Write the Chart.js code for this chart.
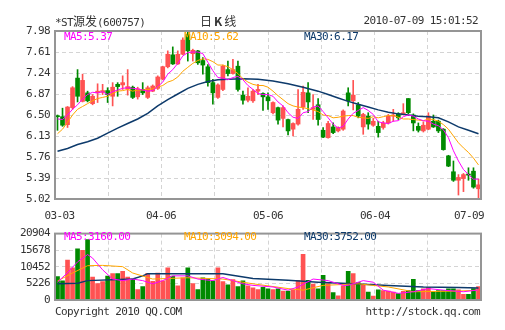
<!DOCTYPE html>
<html>
<head>
<meta charset="utf-8">
<script src="https://cdn.jsdelivr.net/npm/chart.js@4.4.1/dist/chart.umd.min.js"></script>
<style>
  html, body { margin: 0; background: #fff; }
  #wrap { position: relative; width: 505px; height: 330px; overflow: hidden;
          font-family: "DejaVu Sans Mono", "Liberation Mono", monospace; font-size: 11px;
          letter-spacing: -0.6px; color: #333; }
  canvas { position: absolute; left: 0; }
  .t { position: absolute; white-space: nowrap; line-height: 14px; z-index: 2; }
  .cjk { font-family: "Noto Sans CJK SC", sans-serif; font-size: 12px; letter-spacing: 0; }
</style>
</head>
<body>
<div id="wrap">
  <canvas id="kChart" width="505" height="225" style="top:0"></canvas>
  <canvas id="volChart" width="505" height="108" style="top:222px"></canvas>

  <div class="t" style="left:55px;top:14px">*ST<span class="cjk">源发</span>(600757)</div>
  <div class="t cjk" style="left:200px;top:14px;letter-spacing:2px">日<b>K</b>线</div>
  <div class="t" style="right:27px;top:14px">2010-07-09 15:01:52</div>

  <div class="t" style="left:64px;top:30px;color:#ff00ff">MA5:5.37</div>
  <div class="t" style="left:184px;top:30px;color:#ffa500">MA10:5.62</div>
  <div class="t" style="left:304px;top:30px;color:#0d3a6b">MA30:6.17</div>

  <div class="t" style="left:64px;top:230px;color:#ff00ff">MA5:3160.00</div>
  <div class="t" style="left:184px;top:230px;color:#ffa500">MA10:3094.00</div>
  <div class="t" style="left:304px;top:230px;color:#0d3a6b">MA30:3752.00</div>

  <div class="t" style="left:55px;top:305px">Copyright 2010 QQ.COM</div>
  <div class="t" style="right:25px;top:305px">http://stock.qq.com</div>
</div>

<script>
// tick labels
var dateLabels = ['03-03', '04-06', '05-06', '06-04', '07-09'];
var priceTicks = [5.02, 5.39, 5.76, 6.13, 6.50, 6.87, 7.24, 7.61, 7.98];
var volTicks = [0, 5226, 10452, 15678, 20904];

// daily candles, 2010-03-03 .. 2010-07-09
var openP = [6.48,6.47,6.33,6.63,7.15,6.74,6.89,6.70,6.89,6.90,
  6.93,6.83,7.04,7.03,6.96,6.99,6.82,6.95,6.81,6.92,
  6.97,7.13,7.35,7.56,7.40,7.57,7.92,7.58,7.63,7.46,
  7.35,7.07,6.81,6.95,7.30,7.23,7.36,6.85,6.76,6.75,
  6.92,6.88,6.82,6.54,6.63,6.44,6.42,6.25,6.34,6.64,
  6.89,6.60,6.68,6.23,6.10,6.29,6.22,6.25,6.89,6.75,
  6.68,6.29,6.48,6.32,6.30,6.28,6.36,6.48,6.52,6.51,
  6.79,6.50,6.30,6.22,6.25,6.39,6.39,6.25,5.78,5.50,
  5.35,5.38,5.46,5.51,5.20];
var closeP = [6.47,6.32,6.64,6.98,6.83,7.11,6.75,6.83,6.92,6.93,
  6.86,6.99,7.00,7.07,7.00,6.81,6.96,6.89,6.98,7.01,
  7.17,7.35,7.57,7.40,7.57,7.82,7.63,7.64,7.42,7.38,
  7.07,6.89,7.03,7.36,7.23,7.30,6.95,6.76,6.83,6.92,
  6.95,6.82,6.75,6.72,6.41,6.63,6.22,6.35,6.60,6.90,
  6.73,6.63,6.42,6.11,6.35,6.19,6.28,6.57,6.75,6.85,
  6.48,6.51,6.34,6.39,6.19,6.36,6.48,6.50,6.45,6.54,
  6.54,6.36,6.23,6.32,6.48,6.29,6.22,5.89,5.60,5.35,
  5.40,5.45,5.44,5.23,5.27];
var highP = [6.50,6.62,6.65,7.00,7.30,7.22,6.92,6.86,7.05,7.04,
  6.98,7.07,7.07,7.19,7.30,7.01,6.99,7.07,7.01,7.03,
  7.19,7.36,7.63,7.70,7.63,7.86,7.98,7.66,7.64,7.51,
  7.39,7.13,7.05,7.38,7.45,7.48,7.45,6.92,6.98,6.95,
  7.04,6.89,6.89,6.73,6.64,6.66,6.43,6.36,6.95,7.01,
  7.07,6.86,6.79,6.28,6.39,6.36,6.29,6.59,6.98,7.11,
  6.72,6.53,6.54,6.44,6.39,6.39,6.51,6.60,6.54,6.70,
  6.79,6.52,6.36,6.38,6.54,6.50,6.41,6.26,5.79,5.69,
  5.45,5.47,5.57,5.57,5.37];
var lowP = [6.23,6.30,6.28,6.60,6.73,6.73,6.73,6.68,6.72,6.86,
  6.72,6.66,6.83,6.95,6.85,6.79,6.78,6.86,6.79,6.91,
  6.95,7.12,7.33,7.39,7.39,7.56,7.45,7.45,7.39,7.22,
  7.01,6.69,6.79,6.93,7.19,7.22,6.92,6.69,6.73,6.72,
  6.86,6.58,6.60,6.52,6.34,6.29,6.15,6.13,6.32,6.60,
  6.54,6.42,6.32,6.10,6.09,6.17,6.20,6.23,6.66,6.59,
  6.45,6.16,6.25,6.30,6.11,6.25,6.34,6.39,6.42,6.50,
  6.52,6.22,6.20,6.20,6.24,6.28,6.19,5.88,5.59,5.33,
  5.09,5.15,5.35,5.21,5.02];
var volume = [7400,6000,12600,10100,16100,15600,19000,7200,5200,5800,
  7500,8300,8300,9000,7200,6700,3300,4200,8400,5900,
  8500,6000,10100,7500,4500,7000,10100,5200,3300,7000,
  6600,6000,10100,5800,4800,6400,4200,6000,4500,3800,
  3300,4000,3500,3300,3500,2800,2800,3200,6200,14400,
  6200,5000,3500,7800,5200,2300,1300,4500,9000,8300,
  5500,4800,2500,1200,3200,3000,2800,2500,2000,2700,
  3000,6500,3000,3500,4000,2500,3000,3000,3500,3500,
  3200,1800,1800,3600,4200];

// moving averages
var ma5 = [6.43,6.42,6.50,6.60,6.68,6.78,6.86,6.90,6.89,6.91,
  6.86,6.91,6.94,6.97,6.98,6.97,6.96,6.94,6.92,6.93,
  7.00,7.08,7.22,7.30,7.41,7.54,7.60,7.61,7.61,7.58,
  7.43,7.28,7.16,7.15,7.12,7.16,7.18,7.12,7.02,6.95,
  6.88,6.86,6.86,6.83,6.73,6.66,6.54,6.46,6.44,6.54,
  6.56,6.64,6.66,6.56,6.45,6.34,6.27,6.30,6.43,6.53,
  6.58,6.63,6.58,6.51,6.38,6.36,6.35,6.39,6.40,6.47,
  6.50,6.48,6.43,6.40,6.39,6.34,6.31,6.24,6.10,5.87,
  5.69,5.54,5.45,5.37,5.37];
var ma10 = [6.17,6.25,6.37,6.50,6.60,6.65,6.70,6.75,6.79,6.81,
  6.83,6.88,6.92,6.93,6.95,6.92,6.94,6.94,6.95,6.96,
  6.99,7.02,7.08,7.11,7.17,7.27,7.34,7.41,7.46,7.49,
  7.48,7.44,7.38,7.38,7.35,7.30,7.23,7.14,7.08,7.04,
  7.02,7.02,6.99,6.92,6.84,6.77,6.70,6.66,6.64,6.63,
  6.61,6.59,6.56,6.50,6.49,6.45,6.46,6.48,6.49,6.49,
  6.46,6.45,6.44,6.47,6.45,6.47,6.49,6.49,6.46,6.43,
  6.43,6.42,6.41,6.40,6.43,6.42,6.39,6.33,6.25,6.13,
  6.01,5.92,5.84,5.74,5.62];
var ma30 = [[0,5.86],[2,5.91],[4,5.98],[6,6.03],[8,6.09],[10,6.18],[12,6.27],[14,6.35],
  [16,6.43],[18,6.53],[20,6.66],[22,6.77],[24,6.87],[26,6.97],[28,7.04],[30,7.09],
  [32,7.12],[34,7.13],[37,7.14],[40,7.13],[43,7.10],[46,7.05],[49,6.99],[52,6.92],
  [54,6.86],[56,6.80],[58,6.74],[60,6.69],[62,6.64],[64,6.59],[66,6.55],[68,6.52],
  [70,6.50],[72,6.48],[74,6.47],[76,6.45],[78,6.38],[80,6.29],[82,6.23],[84,6.17]];

var volMa5 = [[0,5600],[2,8600],[4,12000],[6,14300],[7,13200],[9,9500],[11,6600],[13,6100],
  [15,6600],[17,6100],[19,5100],[21,6100],[23,7600],[26,7600],[28,6600],[31,6100],
  [33,7100],[35,6100],[37,5100],[39,4600],[43,4100],[46,3100],[48,4100],[51,6600],
  [54,6100],[57,4600],[58,4600],[61,6100],[63,5600],[65,3100],[68,2100],[71,2600],
  [74,3600],[77,3100],[81,2600],[84,3160]];
var volMa10 = [[0,6000],[3,8500],[6,10800],[9,10900],[13,10500],[15,8500],[19,6600],
  [26,7000],[33,6600],[39,5100],[46,3600],[49,3100],[53,4600],[60,5100],[66,4100],
  [71,2600],[80,2800],[84,3094]];
var volMa30 = [[0,5100],[4,5300],[6,6100],[15,6600],[17,7600],[18,8300],[33,8300],
  [39,6800],[46,6200],[52,5600],[59,5100],[66,4600],[73,4100],[80,3900],[84,3752]];

var n = closeP.length;
var mono = '"DejaVu Sans Mono", "Liberation Mono", monospace';
var upColor = '#ff5252', downColor = '#008a00';
var candleColors = closeP.map(function(c, i) { return c >= openP[i] ? upColor : downColor; });
var labelAt = [0.4, 20.65, 42, 63.35, 82.1];

function pts(arr) { return arr.map(function(v, i) { return {x: i, y: v}; }); }
function pairs(arr) { return arr.map(function(p) { return {x: p[0], y: p[1]}; }); }

var frame = {
  id: 'frame',
  beforeDraw: function(chart) { chart.ctx.letterSpacing = '-0.6px'; },
  afterDraw: function(chart) {
    var a = chart.chartArea, g = chart.ctx;
    g.save();
    g.strokeStyle = '#959595';
    g.lineWidth = 2;
    g.strokeRect(a.left, a.top, a.right - a.left, a.bottom - a.top);
    g.restore();
  }
};

function gridAxis() {
  return {
    type: 'linear', min: -0.5, max: n - 0.5, offset: false,
    grid: { color: '#d4d4d4', drawTicks: false, offset: false },
    border: { display: false, dash: [4, 3] },
    ticks: { display: false },
    afterBuildTicks: function(s) {
      s.ticks = [0, 1, 2, 3, 4, 5, 6, 7, 8].map(function(k) { return {value: -0.5 + k * n / 8}; });
    },
    afterFit: function(s) { s.height = 0; }
  };
}

function valueAxis(min, max, tickVals, fmt) {
  return {
    type: 'linear', min: min, max: max, beginAtZero: false,
    grid: { color: '#d4d4d4', drawTicks: false },
    border: { display: false, dash: [4, 3] },
    afterBuildTicks: function(s) { s.ticks = tickVals.map(function(v) { return {value: v}; }); },
    ticks: { color: '#333', font: { family: mono, size: 11 }, padding: 5, callback: fmt },
    afterFit: function(s) { s.width = 55; }
  };
}

function lineSet(data, color, width) {
  return { type: 'line', data: data, borderColor: color, borderWidth: width,
           pointRadius: 0, tension: 0, order: 0 };
}

var common = {
  responsive: false,
  animation: false,
  events: [],
  plugins: { legend: { display: false }, tooltip: { enabled: false } }
};

new Chart(document.getElementById('kChart').getContext('2d'), {
  type: 'bar',
  data: {
    datasets: [
      lineSet(pts(ma5), '#ff00ff', 1),
      lineSet(pts(ma10), '#ffa500', 1),
      lineSet(pairs(ma30), '#0d3a6b', 1.5),
      { type: 'bar', data: openP.map(function(o, i) { return {x: i, y: [o, closeP[i]]}; }),
        backgroundColor: candleColors, barThickness: 4, minBarLength: 1, grouped: false, order: 1 },
      { type: 'bar', data: lowP.map(function(l, i) { return {x: i, y: [l, highP[i]]}; }),
        backgroundColor: candleColors, barThickness: 1, grouped: false, order: 2 }
    ]
  },
  options: Object.assign({}, common, {
    layout: { padding: { top: 31, right: 24, bottom: 0, left: 0 } },
    scales: {
      x: gridAxis(),
      xl: {
        type: 'linear', min: -0.5, max: n - 0.5, offset: false, position: 'bottom',
        grid: { display: false, drawTicks: false },
        border: { display: false },
        afterBuildTicks: function(s) { s.ticks = labelAt.map(function(v) { return {value: v}; }); },
        ticks: { color: '#333', font: { family: mono, size: 11 }, padding: 11, maxRotation: 0,
                 autoSkip: false, callback: function(v, i) { return dateLabels[i]; } },
        afterFit: function(s) { s.height = 26; }
      },
      y: valueAxis(5.02, 7.98, priceTicks, function(v) { return v.toFixed(2); })
    }
  }),
  plugins: [frame]
});

new Chart(document.getElementById('volChart').getContext('2d'), {
  type: 'bar',
  data: {
    datasets: [
      lineSet(pairs(volMa5), '#ff00ff', 1),
      lineSet(pairs(volMa10), '#ffa500', 1),
      lineSet(pairs(volMa30), '#0d3a6b', 1.5),
      { type: 'bar', data: volume.map(function(v, i) { return {x: i, y: v}; }),
        backgroundColor: candleColors, barThickness: 4, grouped: false, order: 1 }
    ]
  },
  options: Object.assign({}, common, {
    layout: { padding: { top: 8, right: 24, bottom: 30, left: 0 } },
    scales: {
      x: gridAxis(),
      y: valueAxis(0, 20904, volTicks, function(v) { return String(v); })
    }
  }),
  plugins: [frame]
});
</script>
</body>
</html>
